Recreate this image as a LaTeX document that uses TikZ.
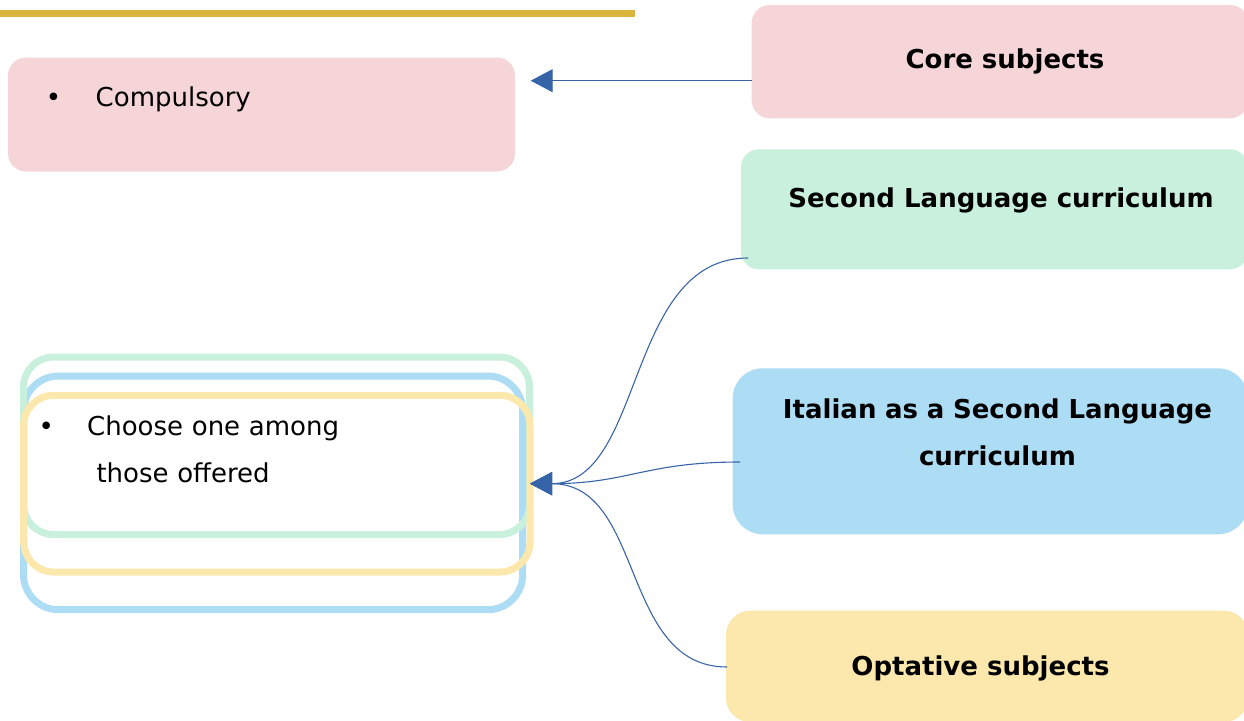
\documentclass[tikz,border=0pt]{standalone}
\usepackage{fontspec}
\setmainfont{DejaVu Sans}
\usetikzlibrary{arrows.meta}
\definecolor{pinkfill}{HTML}{F5D5D8}
\definecolor{greenfill}{HTML}{C8F0DC}
\definecolor{bluefill}{HTML}{ADDCF5}
\definecolor{yellowfill}{HTML}{FCE8AC}
\definecolor{goldline}{HTML}{DBB43C}
\definecolor{connblue}{HTML}{3A64A8}
\definecolor{tipblue}{HTML}{3565A8}
\begin{document}
\begin{tikzpicture}[x=1pt,y=-1pt,
  box/.style={rectangle, rounded corners=#1, inner sep=0pt, outer sep=0pt, anchor=north west},
  box/.default=18pt,
  outlinebox/.style={box=#1, line width=7pt},
  txt/.style={inner sep=0pt, font=\fontsize{26}{47}\selectfont},
  head/.style={txt, font=\fontsize{26}{46.7}\selectfont\bfseries, anchor=base},
  conn/.style={draw=connblue, line width=1.1pt, -{Triangle[length=22pt,width=23pt,color=tipblue]}}]
\useasboundingbox (0,0) rectangle (1244,720);
\clip (0,0) rectangle (1244,720);
\fill[white] (0,0) rectangle (1244,720);
% top rule
\draw[goldline, line width=7pt] (0,13.7) -- (635,13.7);
% left boxes
\node[box=18pt, fill=pinkfill, minimum width=507pt, minimum height=114pt] (comp) at (8,57.5) {};
\node[outlinebox=35pt, draw=bluefill, minimum width=499.2pt, minimum height=233.7pt] (bluebox) at (23.5,376) {};
\node[outlinebox=30pt, draw=greenfill, minimum width=506pt, minimum height=177.5pt] (greenbox) at (23.5,357) {};
\node[outlinebox=30pt, draw=yellowfill, minimum width=506.3pt, minimum height=176.7pt] (choice) at (23.7,395.3) {};
% right boxes
\node[box=18pt, fill=pinkfill, minimum width=496.3pt, minimum height=113.3pt] (core) at (751.7,5) {};
\node[box=18pt, fill=greenfill, minimum width=507pt, minimum height=120pt] (second) at (741,149.3) {};
\node[box=30pt, fill=bluefill, minimum width=515.3pt, minimum height=166pt] (italian) at (732.7,368.3) {};
\node[box=24pt, fill=yellowfill, minimum width=522pt, minimum height=111.3pt] (optative) at (726,610.7) {};
% texts
\node[txt, anchor=base] (b1) at (53.5,106.7) {•};
\node[txt, anchor=base west] (comptext) at (95.5,106.7) {Compulsory};
\node[txt, anchor=base] (b2) at (46.3,435) {•};
\node[txt, anchor=base west, text width=320pt, align=left] (choicetext) at (87,435) {Choose one among\\\hspace*{9.3pt}those offered};
\node[head] (coretext) at (1005,68.3) {Core subjects};
\node[head] (secondtext) at (1001,207.5) {Second Language curriculum};
\node[head, text width=480pt, align=center] (italiantext) at (997.5,418.3) {Italian as a Second Language\\curriculum};
\node[head] (optativetext) at (980.5,675) {Optative subjects};
% connector end points
\coordinate (coreout) at (751.7,80.7);
\coordinate (compin) at (530.7,80.7);
\coordinate (secondout) at (748,258);
\coordinate (italianout) at (740,462);
\coordinate (optativeout) at (727,667);
% connectors
\draw[conn] (coreout) -- (compin);
\draw[conn] (secondout) .. controls (625,258) and (645,483.7) .. (choice.east);
\draw[conn] (italianout) .. controls (645,462) and (628,483.7) .. (choice.east);
\draw[conn] (optativeout) .. controls (620,667) and (645,483.7) .. (choice.east);
\end{tikzpicture}
\end{document}
